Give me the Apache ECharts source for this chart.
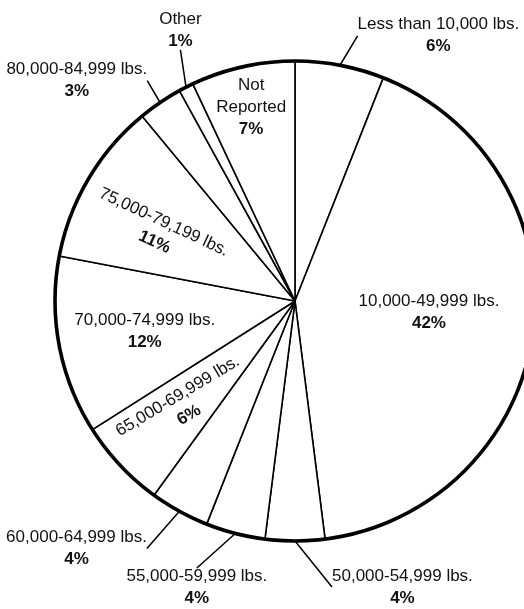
<!DOCTYPE html>
<html>
<head>
<meta charset="utf-8">
<script src="https://cdn.jsdelivr.net/npm/echarts@6/dist/echarts.min.js"></script>
<style>
  html, body { margin: 0; padding: 0; background: #fff; }
  #chart { width: 524px; height: 609px; }
</style>
</head>
<body>
<div id="chart"></div>
<script>
// slices, clockwise from 12 o'clock
var categories = [
  'Less than 10,000 lbs.',
  '10,000-49,999 lbs.',
  '50,000-54,999 lbs.',
  '55,000-59,999 lbs.',
  '60,000-64,999 lbs.',
  '65,000-69,999 lbs.',
  '70,000-74,999 lbs.',
  '75,000-79,199 lbs.',
  '80,000-84,999 lbs.',
  'Other',
  'Not\nReported'
];
var shares = [6, 42, 4, 4, 4, 6, 12, 11, 3, 1, 7];

var FONT = "'Liberation Sans', Arial, sans-serif";
var CENTER = [295, 301];
var R = 240;

// outside labels: offset from the end of the leader line
var outsidePlace = {
  0: { dx: 12, dy: 0, align: 'left' },
  2: { dx: 37, dy: 16, align: 'left' },
  3: { dx: -31, dy: 25, align: 'center' },
  4: { dx: -18, dy: 11, align: 'right' },
  8: { dx: 4, dy: 3, align: 'right' },
  9: { dx: 8, dy: -30, align: 'center' }
};
// inside labels: which ring they sit on, rotation and a small nudge
var insideRings = [
  { radius: [24, R], items: { 1: { rot: 0, dy: -6 } } },
  { radius: [60, R], items: { 5: { rot: 31, dy: 0 }, 6: { rot: 0, dy: 2 }, 7: { rot: -25, dy: 10 } } },
  { radius: [156, R], items: { 10: { rot: 0, dy: 2 } } }
];

var textStyle = {
  color: '#111',
  formatter: '{n|{b}}\n{p|{c}%}',
  rich: {
    n: { fontFamily: FONT, fontSize: 17, lineHeight: 22, color: '#111', align: 'center' },
    p: { fontFamily: FONT, fontSize: 17, fontWeight: 'bold', lineHeight: 22, color: '#111', align: 'center' }
  }
};

var mainData = categories.map(function (name, i) {
  var out = outsidePlace[i] != null;
  return {
    name: name,
    value: shares[i],
    label: { show: out },
    labelLine: { show: out }
  };
});

var series = [{
  type: 'pie',
  center: CENTER,
  radius: R,
  startAngle: 90,
  clockwise: true,
  avoidLabelOverlap: false,
  silent: true,
  emphasis: { disabled: true },
  itemStyle: { color: '#fff', borderColor: '#000', borderWidth: 1.6 },
  label: Object.assign({ position: 'outside', distanceToLabelLine: 0 }, textStyle),
  labelLine: { length: 30, length2: 0, lineStyle: { color: '#000', width: 1.5 } },
  labelLayout: function (p) {
    var pl = outsidePlace[p.dataIndex];
    if (!pl || !p.labelLinePoints) return;
    var end = p.labelLinePoints[p.labelLinePoints.length - 1];
    return { x: end[0] + pl.dx, y: end[1] + pl.dy, align: pl.align, verticalAlign: 'middle' };
  },
  data: mainData
}, {
  // heavy outer rim
  type: 'pie',
  center: CENTER,
  radius: [R - 1.8, R + 1.8],
  silent: true,
  emphasis: { disabled: true },
  label: { show: false },
  labelLine: { show: false },
  itemStyle: { color: '#000', borderWidth: 0 },
  data: [{ name: 'rim', value: shares.reduce(function (a, b) { return a + b; }, 0) }]
}];

insideRings.forEach(function (ring) {
  series.push({
    type: 'pie',
    center: CENTER,
    radius: ring.radius,
    startAngle: 90,
    clockwise: true,
    silent: true,
    emphasis: { disabled: true },
    itemStyle: { color: 'rgba(0,0,0,0)', borderWidth: 0 },
    labelLine: { show: false },
    label: Object.assign({ position: 'inside' }, textStyle),
    labelLayout: function (p) {
      var it = ring.items[p.dataIndex];
      if (!it) return;
      return { dy: it.dy };
    },
    data: categories.map(function (name, i) {
      var it = ring.items[i];
      return {
        name: name,
        value: shares[i],
        label: it == null ? { show: false } : { show: true, rotate: it.rot }
      };
    })
  });
});

var chart = echarts.init(document.getElementById('chart'), null, { renderer: 'canvas' });
chart.setOption({
  backgroundColor: '#fff',
  animation: false,
  series: series
});
</script>
</body>
</html>
